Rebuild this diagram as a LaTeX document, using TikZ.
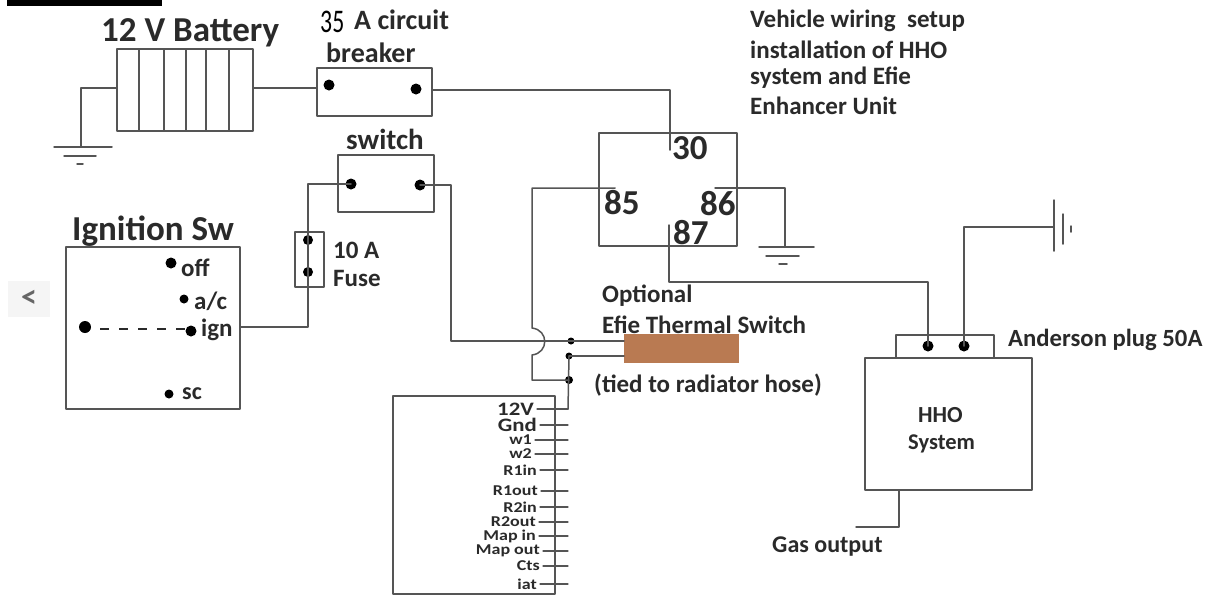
\documentclass[tikz,border=0pt]{standalone}
\usepackage{fontspec}
\setmainfont{Carlito}
\newcommand{\fs}[1]{\fontsize{#1}{#1}\selectfont\bfseries}
\definecolor{wire}{HTML}{555555}
\definecolor{ink}{HTML}{2A2A2A}
\definecolor{hose}{HTML}{B97A52}
\tikzset{
	part/.style={draw=wire, line width=1.5pt, inner sep=0pt, outer sep=0pt, anchor=north west},
	pin/.style={circle, fill=black, inner sep=0pt, minimum size=#1},
	pin/.default=11pt,
	lbl/.style={text=ink, inner sep=0pt, anchor=west},
	wired/.style={draw=wire, line width=1.5pt}
}
\begin{document}
\begin{tikzpicture}[x=1pt,y=-1pt, line join=round, line cap=round]
	\useasboundingbox (0,0) rectangle (1206,598);
	\fill[white] (0,0) rectangle (1206,598);
	\node[fill=black, inner sep=0pt, minimum width=155pt, minimum height=6pt, anchor=north west] (bar) at (7,0) {};
	\node[fill=black!4, text=black!60, inner sep=0pt, minimum width=42pt, minimum height=36pt, font=\fs{32}] (back) at (29,299) {<};
	% battery
	\foreach \a/\b [count=\i] in {117/139,139/164,164/186,186/206,206/229,229/253}
		\node[part, minimum width={(\b-\a)*1pt}, minimum height=82pt] (cell\i) at (\a,49) {};
	\node[lbl, font=\fs{35}] (battext) at (101,33) {12 V Battery};
	\coordinate (batneg) at (117,88);
	\coordinate (batpos) at (253,88);
	\coordinate (gnda) at (81,147);
	\draw[wired] (batneg) -- (gnda |- batneg) -- (gnda);
	\draw[wired] (54,147) -- (112,147) (64,156) -- (96,156) (77,164) -- (83,164);
	% breaker
	\node[part, minimum width=115pt, minimum height=48pt] (breaker) at (317,68) {};
	\node[pin] (cba) at (329,85) {};
	\node[pin] (cbb) at (416,89) {};
	\node[lbl, text=black, font=\fontsize{33}{33}\selectfont] (cbnum) at (320,22) {\scalebox{0.72}[1]{35}};
	\node[lbl, font=\fs{28}] (cbtext) at (354,20) {A circuit};
	\node[lbl, font=\fs{28}] (cbtextb) at (326,53) {breaker};
	\coordinate (cbin) at (317,88);
	\coordinate (cbout) at (432,90);
	\coordinate (pthirty) at (670,150);
	\draw[wired] (batpos) -- (cbin);
	\draw[wired] (cbout) -- (pthirty |- cbout) -- (pthirty);
	% relay
	\node[part, minimum width=138pt, minimum height=113pt] (relay) at (599,133) {};
	\node[lbl, font=\fs{35}] (rthirty) at (672,148) {30};
	\node[lbl, font=\fs{35}] (reightyfive) at (604,203) {85};
	\node[lbl, font=\fs{35}] (reightysix) at (700,204) {86};
	\node[lbl, font=\fs{35}] (reightyseven) at (673,233) {87};
	\coordinate (pfive) at (615,188);
	\coordinate (psix) at (715,188);
	\coordinate (pseven) at (669,225);
	\coordinate (gndb) at (785,247);
	\draw[wired] (psix) -- (gndb |- psix) -- (gndb);
	\draw[wired] (759,247) -- (814,247) (766,256) -- (799,256) (779,264) -- (787,264);
	% ignition
	\node[part, minimum width=174pt, minimum height=162pt] (ign) at (66,247) {};
	\node[lbl, font=\fs{35}] (igntext) at (72,231) {Ignition Sw};
	\node[pin=11pt] (ioff) at (171,263) {};
	\node[pin=9pt] (iac) at (184,299) {};
	\node[pin=11pt] (iign) at (191,331) {};
	\node[pin=12pt] (ibat) at (85,327) {};
	\node[pin=9pt] (isc) at (169,394) {};
	\node[lbl, font=\fs{25}] (offtext) at (181,268) {off};
	\node[lbl, font=\fs{25}] (actext) at (194,301) {a/c};
	\node[lbl, font=\fs{25}] (igntxt) at (201,330) {ign};
	\node[lbl, font=\fs{24}] (sctext) at (182,394) {sc};
	\draw[ink, line width=2.5pt, dash pattern=on 9pt off 10pt, line cap=butt] (ibat) ++(15,2) coordinate (dsh) -- (dsh -| iign.west);
	% fuse and switch
	\node[part, minimum width=29pt, minimum height=55pt] (fuse) at (295,232) {};
	\node[pin=10pt] (fa) at (308,240) {};
	\node[pin=10pt] (fb) at (308,272) {};
	\node[lbl, font=\fs{25}] (fusea) at (333,250) {10 A};
	\node[lbl, font=\fs{25}] (fuseb) at (333,278) {Fuse};
	\node[part, minimum width=96pt, minimum height=57pt] (switch) at (338,155) {};
	\node[pin] (swa) at (351,184) {};
	\node[pin] (swb) at (420,185) {};
	\node[lbl, font=\fs{29}] (swtext) at (346,139) {switch};
	\coordinate (ignout) at (240,327);
	\draw[wired] (ignout) -- (fa |- ignout) -- (fa |- swa) -- (swa.center);
	% thermal switch
	\node[fill=hose, inner sep=0pt, minimum width=115pt, minimum height=29pt, anchor=north west] (therm) at (624,334) {};
	\node[lbl, font=\fs{25}] (opttext) at (602,296) {Optional};
	\node[lbl, font=\fs{25}] (thermtext) at (602,325) {Efie Thermal Switch};
	\node[lbl, font=\fs{25}] (tiedtext) at (594,385) {(tied to radiator hose)};
	\node[pin=7pt] (ja) at (571,341) {};
	\node[pin=7pt] (jb) at (569,356) {};
	\node[pin=8pt] (jc) at (569,380) {};
	\coordinate (tha) at (624,341);
	\coordinate (thb) at (624,356);
	\coordinate (hopa) at (532,328);
	\coordinate (hopb) at (532,355);
	\draw[wired] (swb.center) -- (451,185) -- (451,341) -- (tha);
	\draw[wired] (pfive) -- (hopa |- pfive) -- (hopa) .. controls (549,330) and (549,353) .. (hopb) -- (532,380) -- (jc.center);
	\draw[wired] (jb.center) -- (thb);
	% efie unit
	\node[part, minimum width=162pt, minimum height=198pt] (efie) at (393,396) {};
	\foreach \y/\t/\s/\e [count=\i] in {409/12V/19/534,425/Gnd/19/537,440/w1/15/532,454/w2/15/532,470/R1in/15/537,491/R1out/15/538,507/R2in/15/537,522/R2out/15/536,536/Map in/15/536,551/Map out/15/540,566/Cts/15/540,584/iat/15/537}{
		\node[text=ink, inner sep=0pt, anchor=east, font=\fs{\s}] (efie\i) at (\e,\y) {\scalebox{1.2}[1]{\t}};
		\coordinate (efiep\i) at (568,\y);
		\draw[wired, line width=1.1pt] (\e+3,\y) -- (efiep\i);
	}
	\draw[wired] (jb.center) -- (efiep1) -- (540,409);
	% hho
	\node[part, minimum width=167pt, minimum height=132pt] (hho) at (865,358) {};
	\node[part, minimum width=98pt, minimum height=23pt] (plug) at (896,335) {};
	\node[pin] (pla) at (928,346) {};
	\node[pin] (plb) at (964,346) {};
	\node[lbl, font=\fs{24.7}] (plugtext) at (1008,340) {Anderson plug 50A};
	\node[lbl, font=\fs{23}] (hhotext) at (918,415) {HHO};
	\node[lbl, font=\fs{22.5}] (hhotextb) at (908,444) {System};
	\node[lbl, font=\fs{24}] (gastext) at (772,547) {Gas output};
	\coordinate (gndc) at (1054,227);
	\coordinate (gasa) at (899,490);
	\coordinate (gasb) at (856,527);
	\draw[wired] (pseven) -- (pseven |- 0,282) -- (pla |- 0,282) -- (pla.center);
	\draw[wired] (plb.center) -- (plb |- gndc) -- (gndc);
	\draw[wired] (gasa) -- (gasa |- gasb) -- (gasb);
	\draw[wired] (1054,200) -- (1054,251) (1063,214) -- (1063,244) (1071,226) -- (1071,232);
	% vehicle note
	\node[lbl, font=\fs{25}] (notea) at (750,21) {Vehicle wiring\ \ setup};
	\node[lbl, font=\fs{25}] (noteb) at (750,50) {installation of HHO};
	\node[lbl, font=\fs{25}] (notec) at (750,78) {system and Efie};
	\node[lbl, font=\fs{25}] (noted) at (750,106) {Enhancer Unit};
\end{tikzpicture}
\end{document}
